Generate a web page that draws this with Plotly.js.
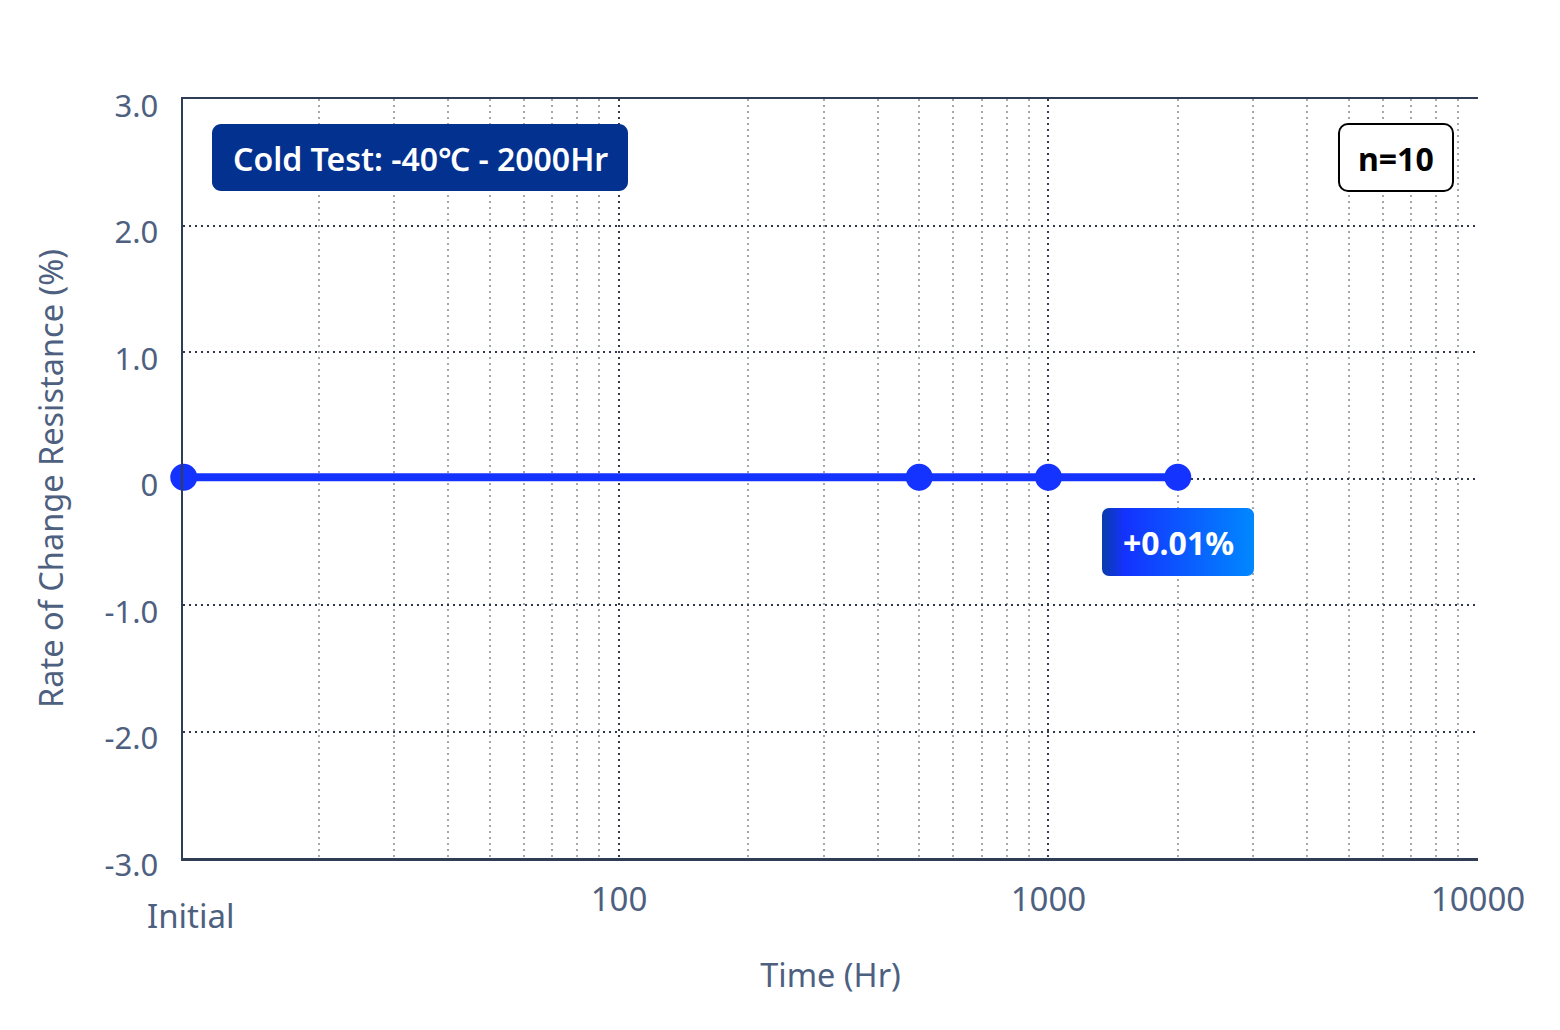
<!DOCTYPE html>
<html>
<head>
<meta charset="utf-8">
<script src="https://cdn.plot.ly/plotly-3.0.1.min.js"></script>
<style>html,body{margin:0;padding:0;background:#fff;}#chart{width:1560px;height:1030px;}</style>
</head>
<body>
<div id="chart"></div>
<script>
// ---- data ----
const timeHours = [9.7, 500, 1000, 2000];          // first point = "Initial"
const changePct = [0.01, 0.01, 0.01, 0.01];
const xMajorTicks = [100, 1000, 10000];
const xMajorLabels = ['100', '1000', '10000'];
const xMinorTicks = [20, 30, 40, 50, 60, 70, 80, 90,
                     200, 300, 400, 500, 600, 700, 800, 900,
                     2000, 3000, 4000, 5000, 6000, 7000, 8000, 9000];
const yTicks = [-3, -2, -1, 0, 1, 2, 3];
const yLabels = ['-3.0', '-2.0', '-1.0', '0', '1.0', '2.0', '3.0'];
const titleText = 'Cold Test: -40℃ - 2000Hr';
const sampleText = 'n=10';
const resultText = '+0.01%';
const initialText = 'Initial';

// ---- layout helpers (pixel -> paper) ----
const W = 1560, H = 1030;
const M = {l: 183, r: 82, t: 99, b: 172};
const PW = W - M.l - M.r, PH = H - M.t - M.b;
const px = x => (x - M.l) / PW;
const py = y => (H - M.b - y) / PH;
function roundRect(x0, y0, x1, y1, r) {
  const k = 0.45;
  const P = (x, y) => px(x).toFixed(5) + ',' + py(y).toFixed(5);
  return 'M' + P(x0 + r, y0) + ' L' + P(x1 - r, y0) +
    ' C' + P(x1 - r * k, y0) + ' ' + P(x1, y0 + r * k) + ' ' + P(x1, y0 + r) +
    ' L' + P(x1, y1 - r) +
    ' C' + P(x1, y1 - r * k) + ' ' + P(x1 - r * k, y1) + ' ' + P(x1 - r, y1) +
    ' L' + P(x0 + r, y1) +
    ' C' + P(x0 + r * k, y1) + ' ' + P(x0, y1 - r * k) + ' ' + P(x0, y1 - r) +
    ' L' + P(x0, y0 + r) +
    ' C' + P(x0, y0 + r * k) + ' ' + P(x0 + r * k, y0) + ' ' + P(x0 + r, y0) + ' Z';
}

const FONT = '"Noto Sans", "Open Sans", sans-serif';
const AXIS_TXT = '#4e6080';
const LINE_CLR = '#2f3d55';
const BLUE = '#1433ff';

const gradSvg = "<svg xmlns='http://www.w3.org/2000/svg' width='152' height='68' viewBox='0 0 152 68'>" +
  "<defs><linearGradient id='g' x1='0' y1='0' x2='1' y2='0'>" +
  "<stop offset='0' stop-color='#0a3caa'/><stop offset='0.15' stop-color='#1432ff'/>" +
  "<stop offset='1' stop-color='#0088ff'/></linearGradient></defs>" +
  "<rect x='0' y='0' width='152' height='68' rx='7' ry='7' fill='url(#g)'/></svg>";

const trace = {
  type: 'scatter', mode: 'lines+markers',
  x: timeHours, y: changePct,
  line: {color: BLUE, width: 8},
  marker: {color: BLUE, size: 27},
  cliponaxis: false,
  hoverinfo: 'x+y'
};

const layout = {
  width: W, height: H,
  margin: M,
  paper_bgcolor: '#ffffff', plot_bgcolor: '#ffffff',
  showlegend: false,
  font: {family: FONT, color: AXIS_TXT, size: 30},
  xaxis: {
    type: 'log',
    range: [Math.log10(9.66), 4],
    tickmode: 'array', tickvals: xMajorTicks, ticktext: xMajorLabels,
    ticks: '', ticklabelstandoff: 11,
    tickfont: {family: FONT, size: 33, color: AXIS_TXT},
    showgrid: true, gridcolor: '#333b4c', griddash: '2px,4px', gridwidth: 2,
    minor: {tickmode: 'array', tickvals: xMinorTicks, showgrid: true,
            gridcolor: '#a3a7b0', griddash: '2px,4px', gridwidth: 2, ticks: ''},
    showline: true, linecolor: LINE_CLR, linewidth: 2.5, mirror: true,
    zeroline: false,
    automargin: false,
    title: {text: 'Time (Hr)', font: {family: FONT, size: 32.5, color: AXIS_TXT}, standoff: 44}
  },
  yaxis: {
    range: [-3, 3],
    tickmode: 'array', tickvals: yTicks, ticktext: yLabels,
    ticks: '', ticklabelstandoff: 16, ticklabelshift: 7,
    tickfont: {family: FONT, size: 31, color: AXIS_TXT},
    showgrid: true, gridcolor: '#2f3848', griddash: '2px,4px', gridwidth: 2,
    showline: true, linecolor: LINE_CLR, linewidth: 2.5, mirror: false,
    zeroline: false,
    automargin: false,
    title: {text: 'Rate of Change Resistance (%)', font: {family: FONT, size: 32.5, color: AXIS_TXT}, standoff: 31}
  },
  shapes: [
    {type: 'path', xref: 'paper', yref: 'paper', layer: 'above',
     path: roundRect(212, 124, 628, 191, 9), fillcolor: '#03318f', line: {width: 0}},
    {type: 'path', xref: 'paper', yref: 'paper', layer: 'above',
     path: roundRect(1339, 124, 1453, 191, 9), fillcolor: '#ffffff', line: {color: '#000000', width: 2}}
  ],
  images: [
    {source: 'data:image/svg+xml;charset=utf-8,' + encodeURIComponent(gradSvg),
     xref: 'paper', yref: 'paper', x: px(1102), y: py(508),
     sizex: px(1254) - px(1102), sizey: py(508) - py(576),
     xanchor: 'left', yanchor: 'top', sizing: 'stretch', layer: 'above'}
  ],
  annotations: [
    {xref: 'paper', yref: 'paper', x: px(420), y: py(158), text: titleText, showarrow: false,
     font: {family: FONT, size: 32, color: '#ffffff', weight: 600}, xanchor: 'center', yanchor: 'middle'},
    {xref: 'paper', yref: 'paper', x: px(1396), y: py(158), text: sampleText, showarrow: false,
     font: {family: FONT, size: 32, color: '#000000', weight: 700}, xanchor: 'center', yanchor: 'middle'},
    {xref: 'paper', yref: 'paper', x: px(1178), y: py(542), text: resultText, showarrow: false,
     font: {family: FONT, size: 32, color: '#ffffff', weight: 700}, xanchor: 'center', yanchor: 'middle'},
    {xref: 'paper', yref: 'paper', x: px(191), y: py(915), text: initialText, showarrow: false,
     font: {family: FONT, size: 33, color: AXIS_TXT}, xanchor: 'center', yanchor: 'middle'}
  ]
};

Plotly.newPlot('chart', [trace], layout, {displayModeBar: false, staticPlot: true});
</script>
</body>
</html>
